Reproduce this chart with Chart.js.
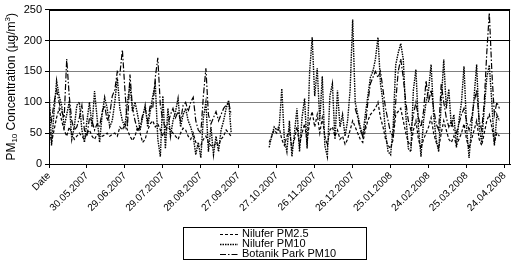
<!DOCTYPE html>
<html>
<head>
<meta charset="utf-8">
<script src="https://cdn.jsdelivr.net/npm/chart.js@4.4.0/dist/chart.umd.min.js"></script>
<style>
  html, body { margin: 0; padding: 0; background: #fff; }
</style>
</head>
<body>
<canvas id="chart" width="515" height="261"></canvas>
<script>
// --- Data (one value every STEP days, day 0 = 30.04.2007) ---
const STEP = 2;
const dateLabels = ['Date', '30.05.2007', '29.06.2007', '29.07.2007', '28.08.2007', '27.09.2007',
    '27.10.2007', '26.11.2007', '26.12.2007', '25.01.2008', '24.02.2008', '25.03.2008', '24.04.2008'];
const yTicks = [0, 50, 100, 150, 200, 250];

function gap(n) { return Array(n).fill(null); }

// Nilufer PM2.5
const niluferPM25 = [].concat(
    [60, 35, 55, 75, 90, 70, 55, 45, 60, 50,
     40, 45, 50, 45, 40, 50, 55, 45, 40, 48,
     47, 45, 47, 50, 45, 48, 50, 45, 60, 55,
     65, 55, 45, 38, 45, 60, 50, 35, 40, 55,
     65, 70, 60, 65, 55, 45, 55, 60, 55, 50,
     45, 40, 50, 58, 55, 45, 40, 50, 35, 28,
     30, 40, 45, 35, 30, 28, 35, 30, 40, 45,
     55, 50, 45],
    gap(14),
    [35, 45, 55, 50, 58, 40, 30, 45, 55, 25,
     40, 60, 30, 50, 65, 35, 70, 85, 60, 80,
     50, 75, 45, 30, 55, 60, 45, 55, 40, 45,
     32, 40, 55, 70, 60, 50, 40, 35, 55, 70,
     80, 85, 90, 100, 75, 60, 40, 30, 25, 40,
     80, 85, 90, 70, 50, 35, 30, 55, 70, 40,
     25, 40, 50, 60, 75, 50, 35, 25, 50, 70,
     55, 40, 35, 45, 30, 40, 50, 65, 40, 25,
     40, 55, 70, 40, 30, 50, 70, 80, 60, 35,
     50, 45],
    gap(4)
);

// Nilufer PM10
const niluferPM10 = [].concat(
    [125, 30, 85, 135, 110, 95, 60, 80, 100, 40,
     60, 95, 100, 55, 35, 70, 100, 60, 118, 75,
     35, 80, 108, 90, 60, 70, 100, 140, 90, 70,
     60, 100, 130, 85, 100, 80, 55, 75, 95, 60,
     85, 110, 130, 40, 12, 110, 25, 90, 45, 70,
     85, 106, 60, 80, 90, 70, 60, 45, 15, 35,
     10, 75, 100, 20, 60, 15, 45, 20, 55, 70,
     90, 103, 50],
    gap(14),
    [27, 45, 60, 55, 62, 122, 40, 20, 70, 12,
     50, 90, 20, 75, 106, 25, 150, 205, 110, 155,
     70, 142, 30, 12, 110, 130, 40, 119, 60, 80,
     45, 70, 120, 234, 100, 80, 60, 45, 80, 110,
     140, 150, 170, 205, 130, 100, 50, 20, 15, 60,
     160, 180, 195, 170, 80, 25, 20, 120, 153, 60,
     12, 70, 100, 120, 161, 80, 40, 20, 100, 169,
     90, 121, 60, 80, 27, 70, 100, 158, 60, 10,
     60, 110, 161, 60, 35, 90, 140, 160, 100, 30,
     80, 70],
    gap(4)
);

// Botanik Park PM10
const botanikPM10 = [].concat(
    [95, 70, 100, 120, 100, 85, 75, 170, 110, 70,
     55, 60, 75, 95, 55, 45, 75, 70, 55, 65,
     60, 85, 95, 70, 80, 110, 120, 150, 145, 185,
     120, 60, 145, 90, 70, 55, 60, 80, 90, 70,
     95, 90, 140, 172, 95, 70, 60, 65, 80, 90,
     75, 85, 70, 95, 100, 85, 100, 108, 70, 55,
     50, 110, 155, 80, 65, 75, 85, 70, 80, 90,
     95, 100, 80],
    gap(48),
    [90, 75, 55, 45, 60, 100, 130, 140, 150, 140,
     150, 120, 90, 70, 50, 45, 100, 150, 170, 140,
     100, 70, 55, 80, 100, 75, 60, 85, 135, 100,
     120, 90, 65, 55, 130, 100, 75, 60, 70, 55,
     50, 65, 80, 90, 70, 55, 75, 100, 120, 70,
     55, 100, 180, 245, 150, 80, 100, 90],
    gap(4)
);

function toPoints(values) {
    return values.map((v, i) => ({ x: i * STEP, y: v }));
}

// --- Extra drawing: frame, y title with sub/superscript, boxed legend ---
const extras = {
    id: 'extras',
    afterDraw(chart) {
        const { ctx, chartArea: a } = chart;
        ctx.save();
        ctx.strokeStyle = '#000';
        ctx.lineWidth = 1;
        ctx.setLineDash([]);
        ctx.strokeRect(Math.round(a.left) + 0.5, Math.round(a.top) + 0.5,
            Math.round(a.right - a.left) - 1, Math.round(a.bottom - a.top));

        // y axis title
        ctx.save();
        ctx.translate(12, (a.top + a.bottom) / 2);
        ctx.rotate(-Math.PI / 2);
        ctx.fillStyle = '#000';
        ctx.textBaseline = 'middle';
        const parts = [['PM', 12, 0], ['10', 8, 3], [' Concentration (\u00b5g/m', 12, 0], ['3', 8, -4], [')', 12, 0]];
        let total = 0;
        parts.forEach(p => { ctx.font = p[1] + 'px Arial'; total += ctx.measureText(p[0]).width; });
        let x = -total / 2;
        parts.forEach(p => {
            ctx.font = p[1] + 'px Arial';
            ctx.fillText(p[0], x, p[2]);
            x += ctx.measureText(p[0]).width;
        });
        ctx.restore();

        // legend
        ctx.strokeRect(183.5, 227.5, 183, 32);
        ctx.font = '11px Arial';
        ctx.textBaseline = 'middle';
        ctx.fillStyle = '#000';
        const rows = [234, 244, 254];
        chart.data.datasets.forEach((ds, i) => {
            const y = rows[i] + 0.5;
            ctx.lineWidth = ds.borderWidth;
            ctx.setLineDash(ds.borderDash);
            ctx.beginPath();
            ctx.moveTo(220, y);
            ctx.lineTo(238, y);
            ctx.stroke();
            ctx.setLineDash([]);
            ctx.fillText(ds.label, 242, rows[i]);
        });
        ctx.restore();
    }
};

const ctx = document.getElementById('chart').getContext('2d');
new Chart(ctx, {
    type: 'line',
    data: {
        datasets: [{
            label: 'Nilufer PM2.5',
            data: toPoints(niluferPM25),
            borderColor: '#000',
            borderWidth: 1.2,
            borderDash: [3, 2],
            pointRadius: 0,
            spanGaps: false
        }, {
            label: 'Nilufer PM10',
            data: toPoints(niluferPM10),
            borderColor: '#000',
            borderWidth: 1.4,
            borderDash: [1.5, 1],
            pointRadius: 0,
            spanGaps: false
        }, {
            label: 'Botanik Park PM10',
            data: toPoints(botanikPM10),
            borderColor: '#000',
            borderWidth: 1.2,
            borderDash: [6, 2, 1.5, 2],
            pointRadius: 0,
            spanGaps: false
        }]
    },
    options: {
        responsive: false,
        animation: false,
        layout: { padding: { top: 5, right: 2, left: 0, bottom: 0 } },
        plugins: { legend: { display: false }, tooltip: { enabled: false } },
        scales: {
            x: {
                type: 'linear',
                min: 0,
                max: 364.5,
                afterBuildTicks: s => { s.ticks = dateLabels.map((_, i) => ({ value: i * 30 })); },
                afterFit: s => { s.height = 97; },
                border: { color: '#000' },
                grid: { drawOnChartArea: false, tickLength: 4, tickColor: '#000' },
                ticks: {
                    color: '#000',
                    font: { family: 'Arial', size: 10 },
                    minRotation: 45,
                    maxRotation: 45,
                    padding: 2,
                    autoSkip: false,
                    callback: (v, i) => dateLabels[i]
                }
            },
            y: {
                min: 0,
                max: 250,
                afterBuildTicks: s => { s.ticks = yTicks.map(v => ({ value: v })); },
                afterFit: s => { s.width = 49; },
                border: { color: '#000' },
                grid: {
                    tickLength: 4,
                    tickColor: '#000',
                    color: c => (c.tick && c.tick.value >= 200) ? '#000' : '#808080'
                },
                ticks: {
                    color: '#000',
                    font: { family: 'Arial', size: 11 },
                    padding: 3
                }
            }
        }
    },
    plugins: [extras]
});
</script>
</body>
</html>
